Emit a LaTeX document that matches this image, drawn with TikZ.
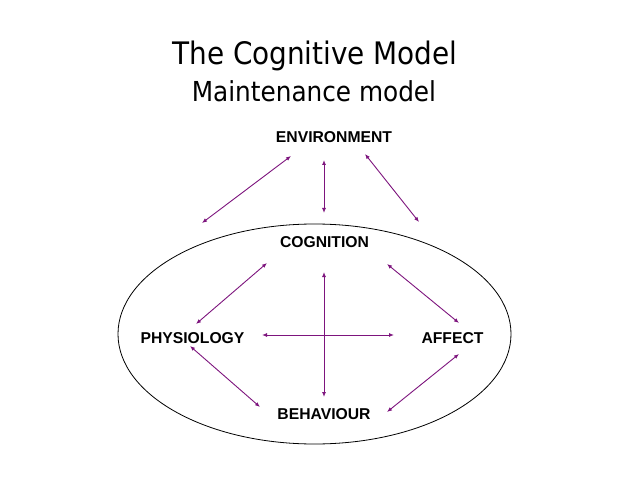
\documentclass[tikz,border=0pt]{standalone}
\usepackage{fontspec}
\setmainfont{Liberation Sans}
\newfontfamily\titlefont{DejaVu Sans Condensed}
\usetikzlibrary{arrows.meta,shapes.geometric}
\definecolor{arrowpurple}{RGB}{125,20,125}
\tikzset{
  lbl/.style={font=\fontsize{15.7bp}{18bp}\selectfont\bfseries, anchor=base, inner sep=0pt},
  link/.style={draw=arrowpurple, line width=0.9bp, {Latex[length=5bp,width=4bp]}-{Latex[length=5bp,width=4bp]}},
  ttl/.style={anchor=base, inner sep=0pt}
}
\begin{document}
\begin{tikzpicture}[x=1bp,y=-1bp]
\useasboundingbox (0,0) rectangle (638,479);
\node[ttl, font=\titlefont\fontsize{31bp}{36bp}\selectfont] (t1) at (315,65) {The Cognitive Model};
\node[ttl, font=\titlefont\fontsize{27.5bp}{32bp}\selectfont] (t2) at (314,102) {Maintenance model};
\node[draw=black, line width=0.8bp, ellipse, minimum width=393bp, minimum height=220bp, inner sep=0pt] (ell) at (314.5,334) {};
\node[lbl] (env) at (334,142.7) {ENVIRONMENT};
\node[lbl] (cog) at (324.5,248) {COGNITION};
\node[lbl] (phy) at (192.5,343) {PHYSIOLOGY};
\node[lbl] (aff) at (452.5,343) {AFFECT};
\node[lbl] (beh) at (324,419) {BEHAVIOUR};
% endpoints
\coordinate (e1) at (291,156); \coordinate (e1b) at (202,223);
\coordinate (e2) at (324,160); \coordinate (e2b) at (324,213);
\coordinate (e3) at (365,154); \coordinate (e3b) at (419,222);
\coordinate (cp1) at (267,263); \coordinate (cp2) at (196,324);
\coordinate (ca1) at (387,264); \coordinate (ca2) at (459,323);
\coordinate (cb1) at (324,272); \coordinate (cb2) at (324,397);
\coordinate (pa1) at (262,335); \coordinate (pa2) at (394,335);
\coordinate (pb1) at (190,346); \coordinate (pb2) at (260,407);
\coordinate (ab1) at (459,354); \coordinate (ab2) at (387,412);
\draw[link] (e1) -- (e1b);
\draw[link] (e2) -- (e2b);
\draw[link] (e3) -- (e3b);
\draw[link] (cp1) -- (cp2);
\draw[link] (ca1) -- (ca2);
\draw[link] (cb1) -- (cb2);
\draw[link] (pa1) -- (pa2);
\draw[link] (pb1) -- (pb2);
\draw[link] (ab1) -- (ab2);
\end{tikzpicture}
\end{document}
